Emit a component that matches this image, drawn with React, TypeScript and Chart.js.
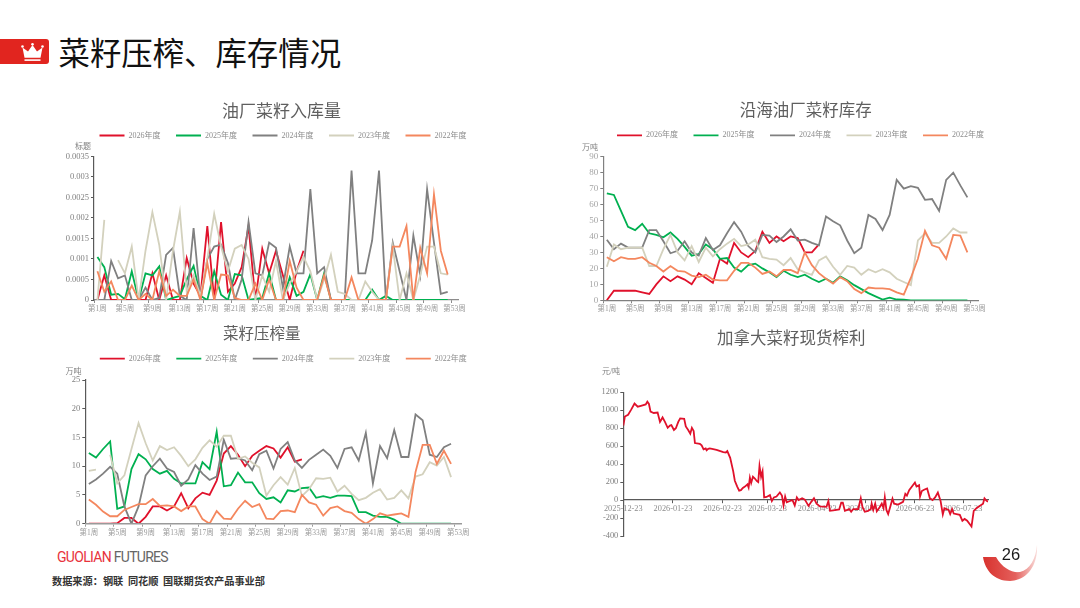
import React, { useEffect, useRef } from "react";
import { Chart, registerables } from "chart.js";

Chart.register(...registerables);

const weeks = Array.from({ length: 53 }, (_, i) => `第${i + 1}周`);
const yearLabels = ["2026年度", "2025年度", "2024年度", "2023年度", "2022年度"];
const yearColors = ["#e0112b", "#00b050", "#808080", "#d3d1bd", "#f4875e"];

const inflow2026 = [0,.0006,0,0,0,0,0,0,.00065,0,.0006,0,0,.00102,.0004,.0001,.0018,0,.0019,.0002,.0004,.0008,.0018,0,.00125,.00065,.0012,.0006,0,.0007,.0012];
const inflow2025 = [.00105,.0008,.00013,.00015,.00002,.0007,0,.00065,.0006,.00082,0,.00005,.0001,.0005,.00083,.0001,0,.0007,.00013,0,.00063,.0006,0,.00003,.00005,.00065,0,0,.00055,.0001,.0002,.00063,0,.00065,0,0,0,0,0,0,.00025,0,.0001,0,0,0,0,0,0,0,0,0];
const inflow2024 = [0,0,.00095,.00053,.0006,0,0,.0003,0,.00005,.0011,.00127,.0001,0,.00175,0,.001,.0013,.00135,.0009,0,.0005,.0019,.00065,.0006,.0014,.00127,.0003,.0013,.00065,.00065,.0027,.00065,.0008,0,0,0,.00315,.00065,.00065,.00145,.00315,0,.0014,.0007,0,.00157,.0006,.0027,.0014,.00015,.0002];
const inflow2023 = [0,.00195,null,.00097,.00065,.0013,0,.0012,.00214,.00134,0,.0012,.00215,.0002,.0006,.0001,.001,.0021,.0013,.0007,.00125,.00134,.001,0,.0006,.0002,.00095,0,.0004,.0007,.00105,.0007,0,.0005,.0011,.0002,.00015,0,0,.00045,.0002,0,0,.0013,0,.00065,0,.0006,.0013,.0013,.00065,.00062];
const inflow2022 = [.0007,.0002,.00045,0,0,.00035,0,.00015,0,.0007,.0001,.00025,.0001,.0001,.0005,0,.0009,0,.00062,.0006,.00005,0,0,.0004,0,.0005,0,0,.00095,.0003,0,0,0,.0006,0,0,0,.00055,0,0,0,0,0,.0013,.0013,.0018,0,.00127,.00065,.00257,.0012,.00062];

const stock2026 = [0,6,6,6,6,5,4,10,15,12,15,13,10,17,14,11,26,23,36,30,27,31,43,36,40,37,40,39,30,30,35];
const stock2025 = [67,66,56,46,44,48,42,41,39.5,42.5,38.5,33.5,28,29,35,32,26,26.5,20.5,18,22,23,20,17.5,14.5,18.5,16,14.5,16,13.5,11.5,13.5,11,15,12.5,9.5,7,4.5,2.5,.5,1.7,.5,.4,0,0,0,0,0,0,0,0,0];
const stock2024 = [38,32,35.5,33,33,33,44,44,37,29.5,31,37,30,28,39,31.5,34.5,42,49,43,34,30,41,40.5,36.5,40,44.5,37.5,38,36,34.5,52.5,49.5,47,37.5,29.5,33,53.5,51,44,53.5,75.5,70,71.5,70.5,63,63.5,56,75.5,80,72,64.5];
const stock2023 = [21,35,32,33,33,33,21.5,21.5,32,41,30,25,34,24,33,27.5,32,35.5,38.5,34,35,38,27,26,25.5,22,26.5,19.5,17.5,16,25,27.5,21,16,21.5,20.5,16,19.5,17.5,19.5,17.5,13.5,11.5,9.5,37.5,42,36,36,40,45,42.5,42.5];
const stock2022 = [27,24.5,27,26,26,27,23.5,21.5,18,21.5,18.5,18,15.5,14.5,16,13,12.5,12.5,18.5,23.5,23.5,20.5,16.5,18,15,19,19,17,30,22,17,13.5,10.5,14.5,12,7,4.5,8,7.5,7.5,7,5,3.5,14,26,43.5,34.5,33,26,41,40.5,30];

const crush2026 = [0,0,0,0,.1,1,1,0,1.2,3,3,2.3,3,5.3,2.7,4.4,5.4,5,7.5,12.2,13.5,12,10,11.8,12.7,13.5,13.1,11.5,13.3,10.8,11.2];
const crush2025 = [12.3,11.5,13,14.3,2.6,3,9.5,12.1,11.2,9.5,8.7,9.2,7.8,7,7,7,10.7,9.5,16,6.5,6.7,8.9,7.2,7.2,5.3,4.3,4.6,3.7,5.8,5.6,6.2,6.3,4.5,4.8,4.5,4.9,4.9,4.8,2,2,1.4,1.2,1.2,.7,0,0,0,0,0,0,0,0];
const crush2024 = [6.9,7.7,8.7,9.9,8.7,3,0,3,8.4,10,11.3,9.6,9,6.6,7.7,10.2,8.7,7.6,8.2,14.6,11.3,11.4,11,9.3,12.1,12.7,9.6,13,14.2,11,9.7,11.1,12,12.9,11.8,9.7,13,13.3,11,15.8,7,13.5,11.4,16.3,11.6,11.6,19,18,12,11.6,13.3,13.9];
const crush2023 = [9.2,9.4,null,12,7,8.4,13,17.5,14,11,13.5,12.8,13.3,11.8,10,11.2,13.2,14.5,13.4,15.3,15.3,11.3,11.7,10.6,9.8,4.9,6.7,8.1,6.8,9.7,4.8,6,7.9,7.8,8,5.6,6.6,5.2,4.1,4.5,5.4,6,4.2,4.5,5.8,4.4,8.2,8.6,10.7,10.1,11.6,8.1];
const crush2022 = [4.2,3.3,2.1,1.3,1.3,2.4,2.9,3.4,3.4,4.3,3.1,3.2,3,2.2,3,3,.8,0,2.2,.9,.8,2.6,4,2.9,3.4,.9,.8,2.2,2.3,2,5,3.7,3.3,1.4,2.7,3,2.2,1.9,.8,0,.8,1.8,1.4,1.6,1.8,1.2,9,13.7,13.7,10.4,12.7,10.4];

const marginDayTicks = [0, 31, 62, 90, 121, 151, 182, 212];
const marginDayLabels = ["2025-12-23", "2026-01-23", "2026-02-23", "2026-03-23", "2026-04-23", "2026-05-23", "2026-06-23", "2026-07-23"];
const marginDays = [0,1,3,5,7,9,11,14,15,16,17,19,21.4,22.9,24.5,26,27.7,29.1,30,31.6,32.8,34.3,35.5,38,39,40.5,41.8,42.8,43.9,44.7,47.8,48.9,50.1,51.4,52,53,54,58.2,62.4,64,64.9,66.7,68.6,69.6,71.1,72.3,73.4,74.6,75.9,77.5,78.2,79,79.8,80.9,82.1,83.4,84.2,85,86,86.9,87.9,89.4,91.5,92.7,94,95.6,97.7,99,100,101,102,104,105.6,107,108.3,109.4,111.6,113.3,115.6,117.3,119,120.6,122.7,126.8,128,129,131,134.7,136,137,138.3,141,142.2,143.5,146.6,148.2,149.3,150.7,152.8,154.5,155,156,157.2,158.2,160,161.3,162.4,163.2,164.2,165.3,167,168,169,171.5,174.6,176,177,178.4,182,183,184.6,185.2,186.3,187.7,189.6,191.3,193,194.6,196.3,198,199.4,200.4,203,204,205.2,206.2,210,211.6,213,214.6,217.3,218.7,220.4,222.4,224.5,225.4,226.6,227.6];
const marginValues = [830,930,950,1010,1075,1040,1050,1065,1095,1070,985,970,975,870,920,870,805,830,835,780,800,870,910,905,820,780,740,805,770,635,625,610,565,575,555,570,575,560,535,530,545,470,320,215,150,105,110,135,150,175,140,250,190,260,240,210,200,380,260,320,30,35,55,-10,30,40,85,50,-60,40,-25,-10,0,-60,30,0,20,5,-65,-20,20,-40,-70,-75,-10,-120,-115,-105,-30,-30,-120,-100,-130,-100,-100,20,-80,-130,-120,-100,-40,-110,-40,-125,-80,-40,-90,30,-110,-155,-50,15,-40,-50,-20,70,50,110,195,150,165,40,100,115,130,20,0,30,85,-10,-160,-90,-110,-155,-100,-150,-165,-230,-210,-230,-295,-120,-90,-65,-40,20,-5,-20];

const SERIF = '"Liberation Serif","Noto Sans CJK SC"';
const SANS = '"Noto Sans CJK SC","Noto Sans"';
const LINE = 1.8;

const blocks = {
  id: "blocks",
  afterLayout(chart: any, _args: any, o: any) {
    const t = chart.titleBlock;
    if (t) {
      const dx = o.titleX - (t.left + t.right) / 2;
      t.left += dx;
      t.right += dx;
      const h = t.options.font.size * 1.2;
      const dy = o.titleY - h / 2 - t.top;
      t.top += dy;
      t.bottom += dy;
    }
    const l = chart.legend;
    if (l && o.legendX !== undefined) {
      const dx = o.legendX - (l.left + l.right) / 2;
      l.left += dx;
      l.right += dx;
      const dy = o.legendY - l.options.labels.padding - l.options.labels.font.size / 2 - l.top;
      l.top += dy;
      l.bottom += dy;
    }
  },
  afterDraw(chart: any, _args: any, o: any) {
    const c = chart.ctx;
    c.save();
    c.font = `8px ${SERIF}`;
    c.fillStyle = "#808080";
    c.textAlign = "center";
    c.textBaseline = "middle";
    c.fillText(o.unit, o.unitX, o.unitY);
    c.restore();
  },
};

type Box = { left: number; top: number; width: number; height: number; pl: number; pr: number; pt: number; pb: number };

function baseOptions(b: Box, title: string, titleSize: number, titleX: number, titleY: number, unit: string, unitX: number, unitY: number, legendX: number | undefined, legendY: number, yLabelSize: number, yColor: string, axisY: string) {
  const legendH = legendX === undefined ? 0 : 8 + 15.5 + 10;
  const titleGap = b.pt - b.top - titleSize * 1.2 - legendH;
  return {
    responsive: false,
    animation: false as const,
    layout: { padding: { left: 0, top: 0, right: b.left + b.width - b.pr, bottom: 0 } },
    elements: { point: { radius: 0 }, line: { borderWidth: LINE, tension: 0 } },
    plugins: {
      tooltip: { enabled: false },
      title: {
        display: true,
        text: title,
        color: "#5f5f5f",
        font: { family: SANS, size: titleSize, weight: "normal" as const, lineHeight: 1.2 },
        padding: { top: 0, bottom: titleGap },
      },
      legend: {
        display: legendX !== undefined,
        position: "top" as const,
        labels: {
          boxWidth: 25,
          boxHeight: 0,
          padding: 15.5,
          color: "#8c8c8c",
          font: { family: SERIF, size: 8 },
          sort: (p: any, q: any) => p.datasetIndex - q.datasetIndex,
        },
      },
      blocks: {
        titleX: titleX - b.left,
        titleY: titleY - b.top,
        legendX: legendX === undefined ? undefined : legendX - b.left,
        legendY: legendY - b.top,
        unit,
        unitX: unitX - b.left,
        unitY: unitY - b.top,
      },
    },
    yScale: {
      afterFit: (s: any) => {
        s.width = b.pl - b.left;
      },
      border: { display: true, color: axisY, width: 1.2 },
      grid: { drawOnChartArea: false, drawTicks: true, tickLength: 3, tickColor: axisY },
      ticks: { color: yColor, font: { family: SERIF, size: yLabelSize }, padding: 2 },
    },
  };
}

function weekChart(canvas: HTMLCanvasElement, b: Box, series: any[][], title: string, titleSize: number, titleX: number, titleY: number, unit: string, unitX: number, unitY: number, legendX: number, legendY: number, yMax: number, yStep: number, yLabelSize: number, yColor: string, axisY: string, axisX: string, axisOnTop: boolean, tickFmt?: (v: number) => string) {
  const { yScale, ...opts } = baseOptions(b, title, titleSize, titleX, titleY, unit, unitX, unitY, legendX, legendY, yLabelSize, yColor, axisY);
  return new Chart(canvas, {
    type: "line",
    data: {
      labels: weeks,
      datasets: series.map((data, i) => ({
        label: yearLabels[i],
        data,
        borderColor: yearColors[i],
        backgroundColor: yearColors[i],
        order: -i,
        spanGaps: false,
      })),
    },
    options: {
      ...opts,
      scales: {
        x: {
          type: "category",
          offset: true,
          afterFit: (s: any) => {
            s.height = b.top + b.height - b.pb;
          },
          border: { display: true, color: axisX, width: axisOnTop ? 1.6 : 1.2, z: axisOnTop ? 1 : 0 },
          grid: {
            offset: true,
            drawOnChartArea: false,
            drawTicks: true,
            tickLength: 3,
            tickColor: (ctx: any) => (ctx.index % 4 === 0 ? axisX : "rgba(0,0,0,0)"),
          },
          ticks: {
            autoSkip: false,
            maxRotation: 0,
            minRotation: 0,
            padding: 1.5,
            color: "#9a9a9a",
            font: { family: SERIF, size: 7.5 },
            callback: (_v: any, i: number) => (i % 4 === 0 ? weeks[i] : ""),
          },
        },
        y: {
          ...yScale,
          min: 0,
          max: yMax,
          ticks: {
            ...yScale.ticks,
            stepSize: yStep,
            callback: (v: any) => (tickFmt ? tickFmt(v) : String(v)),
          },
        },
      },
    } as any,
    plugins: [blocks],
  });
}

const boxA: Box = { left: 50, top: 95, width: 470, height: 225, pl: 94, pr: 458, pt: 156.3, pb: 300 };
const boxB: Box = { left: 560, top: 95, width: 450, height: 225, pl: 603.3, pr: 978, pt: 156.7, pb: 300.3 };
const boxC: Box = { left: 50, top: 322, width: 470, height: 220, pl: 85.3, pr: 461.7, pt: 380, pb: 523.7 };
const boxD: Box = { left: 560, top: 325, width: 450, height: 225, pl: 623.3, pr: 988, pt: 392.3, pb: 536 };

const canvasStyle = (b: Box): React.CSSProperties => ({ position: "absolute", left: b.left, top: b.top, width: b.width, height: b.height });

export default function App() {
  const a = useRef<HTMLCanvasElement>(null);
  const b = useRef<HTMLCanvasElement>(null);
  const c = useRef<HTMLCanvasElement>(null);
  const d = useRef<HTMLCanvasElement>(null);

  useEffect(() => {
    const charts: Chart[] = [];
    charts.push(
      weekChart(a.current!, boxA, [inflow2026, inflow2025, inflow2024, inflow2023, inflow2022], "油厂菜籽入库量", 17, 281.5, 111, "标题", 83, 146.7, 283, 135.5, 0.0035, 0.0005, 8.5, "#808080", "#595959", "#8c8c8c", false, (v) => String(Number(v.toFixed(4))))
    );
    charts.push(
      weekChart(b.current!, boxB, [stock2026, stock2025, stock2024, stock2023, stock2022], "沿海油厂菜籽库存", 16.5, 805.8, 110, "万吨", 590, 148, 800.5, 135.3, 90, 10, 9, "#a6a6a6", "#808080", "#808080", false)
    );
    charts.push(
      weekChart(c.current!, boxC, [crush2026, crush2025, crush2024, crush2023, crush2022], "菜籽压榨量", 15.5, 261.7, 333, "万吨", 73.5, 371.7, 283.3, 358.7, 25, 5, 8.5, "#808080", "#595959", "#9a9a9a", true)
    );
    const { yScale, ...opts } = baseOptions(boxD, "加拿大菜籽现货榨利", 16.5, 791.3, 337.7, "元/吨", 611, 371.7, undefined, 0, 8.4, "#808080", "#595959");
    (opts.layout.padding as any).bottom = boxD.top + boxD.height - boxD.pb;
    charts.push(
      new Chart(d.current!, {
        type: "line",
        data: {
          datasets: [
            {
              label: "加拿大菜籽现货榨利",
              data: marginDays.map((x, i) => ({ x, y: marginValues[i] })),
              borderColor: "#e0112b",
              backgroundColor: "#e0112b",
              parsing: false,
            } as any,
          ],
        },
        options: {
          ...opts,
          scales: {
            x: {
              type: "linear",
              position: { y: 0 },
              min: 0,
              max: 227.6,
              afterBuildTicks: (s: any) => {
                s.ticks = marginDayTicks.map((value) => ({ value }));
              },
              border: { display: true, color: "#595959", width: 1.2 },
              grid: { drawOnChartArea: false, drawTicks: true, tickLength: 3, tickColor: "#595959" },
              ticks: {
                autoSkip: false,
                maxRotation: 0,
                minRotation: 0,
                padding: 1,
                color: "#8c8c8c",
                font: { family: SERIF, size: 8.3 },
                callback: (v: any) => marginDayLabels[marginDayTicks.indexOf(v)],
              },
            },
            y: {
              ...yScale,
              min: -400,
              max: 1200,
              ticks: { ...yScale.ticks, stepSize: 200, callback: (v: any) => String(v) },
            },
          },
        } as any,
        plugins: [blocks],
      })
    );
    return () => charts.forEach((ch) => ch.destroy());
  }, []);

  return (
    <div style={{ position: "absolute", left: 0, top: 0, width: 1080, height: 608, background: "#fff", overflow: "hidden" }}>
      <svg width={1080} height={608} style={{ position: "absolute", left: 0, top: 0 }}>
        <defs>
          <linearGradient id="sw" x1="0" x2="1" y1="0" y2="0">
            <stop offset="0" stopColor="#d8322e" />
            <stop offset="0.6" stopColor="#e4605c" />
            <stop offset="1" stopColor="#f9dcda" />
          </linearGradient>
        </defs>
        <path d="M0 39 H46 a3 3 0 0 1 3 3 V61 a3 3 0 0 1 -3 3 H0 Z" fill="#e1251f" />
        <path d="M22.5 47.5 L28 51.5 L32.5 45 L37 51.5 L42.5 47.5 L40.5 57.8 L24.5 57.8 Z" fill="#fff" />
        <circle cx={22.5} cy={46.5} r={1.3} fill="#fff" />
        <circle cx={32.5} cy={44.3} r={1.3} fill="#fff" />
        <circle cx={42.5} cy={46.5} r={1.3} fill="#fff" />
        <rect x={24.5} y={59.3} width={16} height={1.6} fill="#fff" />
        <path d="M983 557 H996 C1002 568 1012 573 1020 572 C1030 570 1036 558 1037 545 C1038 562 1030 580 1010 581 C994 581 985 570 983 557 Z" fill="url(#sw)" />
      </svg>
      <div style={{ position: "absolute", left: 58.5, top: 30, fontFamily: SANS, fontSize: 31.4, lineHeight: "44px", color: "#111", whiteSpace: "nowrap" }}>菜籽压榨、库存情况</div>
      <canvas ref={a} width={boxA.width} height={boxA.height} style={canvasStyle(boxA)} />
      <canvas ref={b} width={boxB.width} height={boxB.height} style={canvasStyle(boxB)} />
      <canvas ref={c} width={boxC.width} height={boxC.height} style={canvasStyle(boxC)} />
      <canvas ref={d} width={boxD.width} height={boxD.height} style={canvasStyle(boxD)} />
      <div style={{ position: "absolute", left: 57, top: 548, fontFamily: "Roboto", fontWeight: 400, fontSize: 14, lineHeight: "18px", letterSpacing: -0.7, whiteSpace: "nowrap", color: "#666" }}>
        <span style={{ color: "#e8333c" }}>GUOLIAN</span> FUTURES
      </div>
      <div style={{ position: "absolute", left: 52, top: 574, fontFamily: SANS, fontWeight: 700, fontSize: 10.2, lineHeight: "14px", color: "#333", whiteSpace: "pre" }}>数据来源：钢联  同花顺  国联期货农产品事业部</div>
      <div style={{ position: "absolute", left: 990, width: 42, top: 544, textAlign: "center", fontFamily: '"Liberation Sans"', fontSize: 16.5, lineHeight: "20px", color: "#1a1a1a" }}>26</div>
    </div>
  );
}
